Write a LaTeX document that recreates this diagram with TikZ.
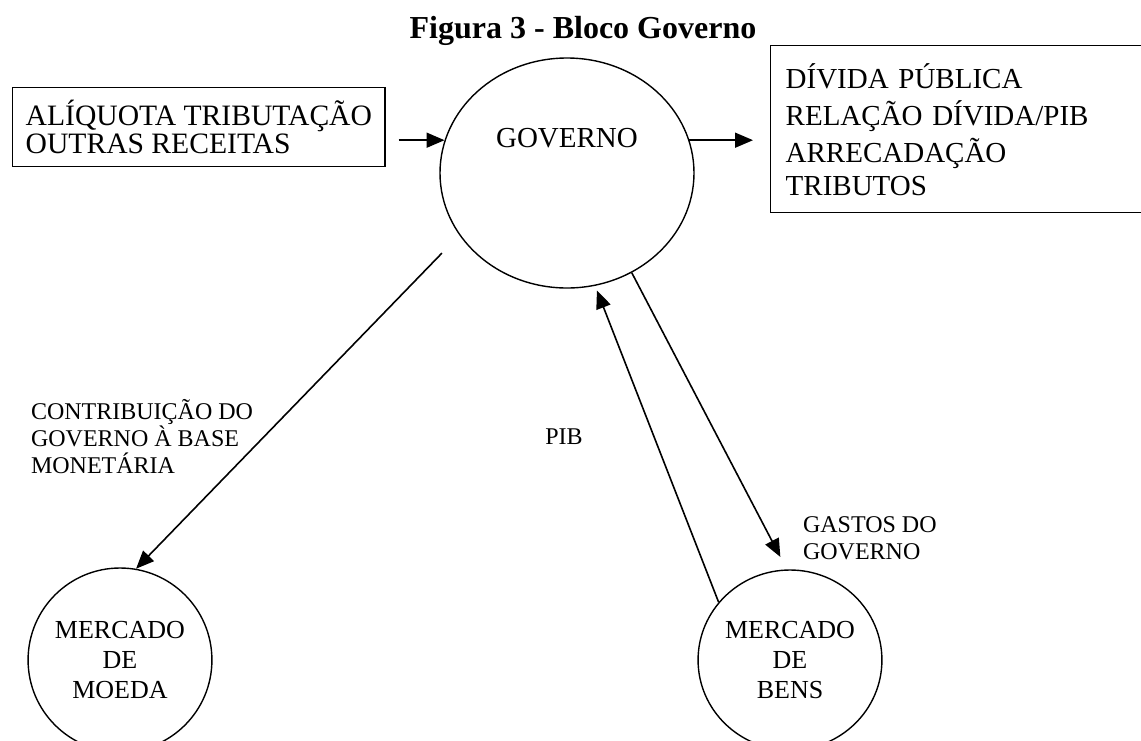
\documentclass[tikz,border=0pt]{standalone}
\usepackage{fontspec}
\setmainfont{Liberation Serif}
\usetikzlibrary{shapes.geometric,arrows.meta}
\begin{document}
\begin{tikzpicture}[x=0.5pt,y=-0.5pt,
    caixa/.style={draw,line width=0.7pt,rectangle,align=left},
    bolha/.style={draw,line width=0.7pt,ellipse,align=center,inner sep=0pt,font=\fontsize{13}{15}\selectfont},
    rotulo/.style={align=left,font=\fontsize{12}{13.5}\selectfont},
    seta/.style={-{Triangle[length=9pt,width=7.5pt]},line width=0.8pt}]
  \useasboundingbox (0,0) rectangle (1141,740);
  \node[font=\bfseries\fontsize{16}{19}\selectfont,anchor=base] (titulo) at (583,38) {Figura 3 - Bloco Governo};
  \node[caixa,anchor=north west,minimum width=185.5pt,minimum height=39.5pt,inner xsep=6.5pt,font=\fontsize{14.8}{14}\selectfont] (entrada) at (12,87)
    {ALÍQUOTA TRIBUTAÇÃO\\OUTRAS RECEITAS};
  \node[caixa,anchor=north west,text width=180pt,minimum height=83.5pt,inner xsep=7.5pt,font=\fontsize{14.5}{16.5}\selectfont] (saida) at (770,45)
    {DÍVIDA PÚBLICA\\[2pt]RELAÇÃO DÍVIDA/PIB\\[2pt]ARRECADAÇÃO\\TRIBUTOS};
  \node[bolha,minimum width=127pt,minimum height=115pt,font=\fontsize{14.5}{17}\selectfont,text height=10pt,text depth=36pt] (governo) at (567,173) {GOVERNO};
  \node[bolha,minimum width=85pt,minimum height=92pt] (moeda) at (120,660) {MERCADO\\DE\\MOEDA};
  \node[bolha,minimum width=90pt,minimum height=90pt] (bens) at (790,660) {MERCADO\\DE\\BENS};
  % rotulos dos fluxos
  \node[rotulo,anchor=west] (contribuicao) at (24,437) {CONTRIBUIÇÃO DO\\GOVERNO À BASE\\MONETÁRIA};
  \node[rotulo] (pib) at (564,437) {PIB};
  \node[rotulo,anchor=west] (gastos) at (796,538) {GASTOS DO\\GOVERNO};
  \begin{scope}[seta]
    \draw[shorten <=6.5pt] (entrada.east |- governo.165) -- (governo.165);
    \draw[shorten >=8.5pt] (governo.15) -- (governo.15 -| saida.west);
    \draw[shorten <=12.5pt] (governo.210) -- (moeda.80);
    \draw[shorten >=7pt] (governo.303) -- (bens.92);
    \draw[shorten >=2.5pt] (bens.141) -- (governo.284);
  \end{scope}
\end{tikzpicture}
\end{document}
